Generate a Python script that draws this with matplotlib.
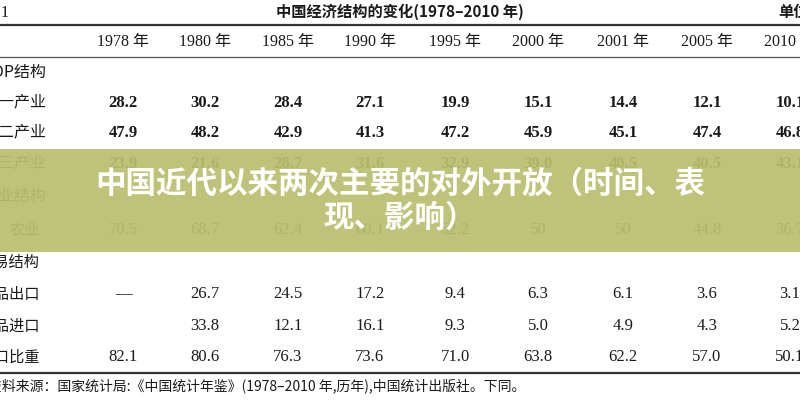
import matplotlib
matplotlib.use("Agg")
import matplotlib.pyplot as plt
from matplotlib.patches import Rectangle

years = ["1978 年", "1980 年", "1985 年", "1990 年", "1995 年", "2000 年", "2001 年", "2005 年", "2010 年"]
row_labels = ["GDP结构", "第一产业", "第二产业", "第三产业", "就业结构", "农业", "贸易结构", "初级产品出口", "初级产品进口", "农村人口比重"]
primary = ["28.2", "30.2", "28.4", "27.1", "19.9", "15.1", "14.4", "12.1", "10.1"]
secondary = ["47.9", "48.2", "42.9", "41.3", "47.2", "45.9", "45.1", "47.4", "46.8"]
tertiary = ["23.9", "21.6", "28.7", "31.6", "32.9", "39.0", "40.5", "40.5", "43.1"]
agri = ["70.5", "68.7", "62.4", "60.1", "52.2", "50", "50", "44.8", "36.7"]
export = ["—", "26.7", "24.5", "17.2", "9.4", "6.3", "6.1", "3.6", "3.1"]
imports = ["", "33.8", "12.1", "16.1", "9.3", "5.0", "4.9", "4.3", "5.2"]
rural = ["82.1", "80.6", "76.3", "73.6", "71.0", "63.8", "62.2", "57.0", "50.1"]
rows = [None, primary, secondary, tertiary, None, agri, None, export, imports, rural]

fig = plt.figure(figsize=(8, 4), dpi=100)
ax = fig.add_axes([0, 0, 1, 1])
ax.set_xlim(0, 800); ax.set_ylim(400, 0); ax.axis("off")
cjk = ["Noto Sans CJK SC", "DejaVu Sans"]
serif = ["Liberation Serif", "Noto Sans CJK SC"]
ink = "#1a1a1a"

ax.text(-20, 12, "表 1", fontsize=12, family=serif, va="center", color=ink)
ax.text(400, 12, "中国经济结构的变化(1978–2010 年)", fontsize=11, family=cjk, fontweight="bold", va="center", ha="center", color=ink)
ax.text(778, 12, "单位：%", fontsize=11, family=cjk, fontweight="bold", va="center", ha="left", color=ink)
ax.plot([0, 800], [25, 25], color="#333", lw=1.6)
ax.plot([0, 800], [57, 57], color="#555", lw=0.9)
ax.plot([0, 800], [373, 373], color="#333", lw=1.6)

xs = [123, 205, 288, 370, 455, 538, 623, 707, 790]
for x, y in zip(xs, years):
    ax.text(x, 42, y, fontsize=11.5, family=serif, ha="center", va="center", color=ink)

ys = [72, 103, 133, 164, 196, 230, 262, 294, 326, 357]
for i, (lab, vals) in enumerate(zip(row_labels, rows)):
    if i < 5:
        ax.text(46, ys[i], lab, fontsize=11.5, family=cjk, ha="right", va="center", color=ink)
    else:
        ax.text(40, ys[i], lab, fontsize=11, family=cjk, ha="right", va="center", color=ink)
    if vals:
        for x, v in zip(xs, vals):
            ax.text(x, ys[i], v, fontsize=12, family=serif, fontweight="bold" if i < 5 else "normal",
                    ha="center", va="center", color=ink)

ax.text(-12, 386, "资料来源：国家统计局:《中国统计年鉴》(1978–2010 年,历年),中国统计出版社。下同。", fontsize=10, family=cjk, ha="left", va="center", color=ink)

ax.add_patch(Rectangle((0, 149), 800, 103, facecolor="#b9bf6f", alpha=0.93, edgecolor="none", zorder=5))
ax.text(400, 184, "中国近代以来两次主要的对外开放（时间、表", fontsize=22, family=cjk, fontweight="heavy", color="white", ha="center", va="center", zorder=6)
ax.text(400, 218, "现、影响）", fontsize=22, family=cjk, fontweight="heavy", color="white", ha="center", va="center", zorder=6)

fig.savefig("out.png", dpi=100)
